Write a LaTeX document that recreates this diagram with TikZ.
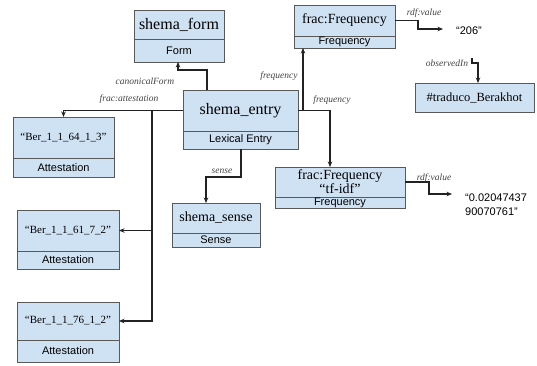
\documentclass[tikz,border=0pt]{standalone}
\usepackage{fontspec}
\setmainfont{Liberation Serif}
\newfontfamily\clsfont{Liberation Sans}
\usetikzlibrary{arrows.meta}
\definecolor{boxfill}{HTML}{CFE2F3}
\definecolor{boxline}{HTML}{595959}
\definecolor{linecol}{HTML}{222222}
\definecolor{lblcol}{HTML}{444444}
% name, x1, x2, y1, ymid, y2, top text, bottom text
\newcommand\umlbox[8]{%
  \node[cell, minimum width={#3-#2}, minimum height={#5-#4}] (#1) at ({(#2+#3)/2},{(#4+#5)/2}) {#7};
  \node[cell, minimum width={#3-#2}, minimum height={#6-#5}] (#1c) at ({(#2+#3)/2},{(#5+#6)/2}) {\clsfont\fontsize{11}{13}\selectfont #8};}
\begin{document}
\begin{tikzpicture}[x=1pt,y=-1pt,
  cell/.style={draw=boxline, fill=boxfill, line width=0.9pt, inner sep=0pt, outer sep=0pt, align=center},
  conn/.style={draw=linecol, line width=1.2pt},
  arr/.style={conn, -{Stealth[length=5.5pt,width=4.5pt]}},
  lbl/.style={font=\fontsize{9.5}{11}\selectfont\itshape, text=lblcol, inner sep=0pt},
]
\fill[white] (0,0) rectangle (537,365);
\useasboundingbox (0,0) rectangle (537,365);

% boxes
\umlbox{form}{134}{224}{10}{39}{62}{\fontsize{16}{18}\selectfont shema\_form}{Form}
\umlbox{entry}{183}{298}{90}{131}{149}{\fontsize{16}{18}\selectfont shema\_entry}{Lexical Entry}
\umlbox{freqA}{294}{395}{5}{36}{48}{\fontsize{14}{16}\selectfont frac:Frequency}{Frequency}
\umlbox{tfidf}{275}{405}{167}{197}{208}{\fontsize{14}{14}\selectfont frac:Frequency\\[0pt]\fontsize{14}{14}\selectfont “tf-idf”}{Frequency}
\umlbox{sense}{172}{260}{203}{233}{247}{\fontsize{14}{16}\selectfont shema\_sense}{Sense}
\umlbox{att1}{13}{114}{117}{158}{177}{\fontsize{11}{13}\selectfont “Ber\_1\_1\_64\_1\_3”}{Attestation}
\umlbox{att2}{17}{119}{210}{251}{269}{\fontsize{11}{13}\selectfont “Ber\_1\_1\_61\_7\_2”}{Attestation}
\umlbox{att3}{17}{119}{302}{340}{362}{\fontsize{11}{13}\selectfont “Ber\_1\_1\_76\_1\_2”}{Attestation}
\node[cell, minimum width=119, minimum height=29] (trad) at (474.5,97.5) {\fontsize{12.5}{14}\selectfont \#traduco\_Berakhot};

% literal values
\node[inner sep=0pt, font=\clsfont\fontsize{11}{13}\selectfont] (val206) at (469,31) {“206”};
\node[inner sep=0pt, anchor=west, align=left, font=\clsfont\fontsize{11}{14}\selectfont] (num) at (465,205) {“0.02047437\\90070761”};

% connectors
\draw[arr] (207,0 |- entry.north) |- (178,70) -- (178,0 |- formc.south);
\draw[arr] (entry.west) -| (att1.north);
\coordinate (split) at (152,0 |- entry.west);
\draw[arr] (split) |- (att2.east);
\draw[arr] (split) |- (att3.east);
\draw[arr] (241,0 |- entryc.south) |- (206,177) -- (206,0 |- sense.north);
\draw[arr] (entry.east) -| (303,0 |- freqAc.south);
\draw[arr] (entry.east) -| (330,0 |- tfidf.north);
\coordinate (v206in) at (443,29);
\draw[arr] (freqA.east) -| (418,29) -- (v206in);
\coordinate (obsStart) at (472,58);
\draw[arr] (obsStart) |- (478,63) -- (478,0 |- trad.north);
\coordinate (numIn) at (452,194);
\draw[arr] (tfidf.east) -| (429,194) -- (numIn);

% labels
\node[lbl] (lcanon) at (145,81) {canonicalForm};
\node[lbl] (latt) at (129,99) {frac:attestation};
\node[lbl] (lfreq1) at (279,76) {frequency};
\node[lbl] (lfreq2) at (332,100) {frequency};
\node[lbl] (lsense) at (222,171) {sense};
\node[lbl] (lrdf1) at (424,13) {rdf:value};
\node[lbl] (lobs) at (447,63) {observedIn};
\node[lbl] (lrdf2) at (434,178) {rdf:value};
\end{tikzpicture}
\end{document}
